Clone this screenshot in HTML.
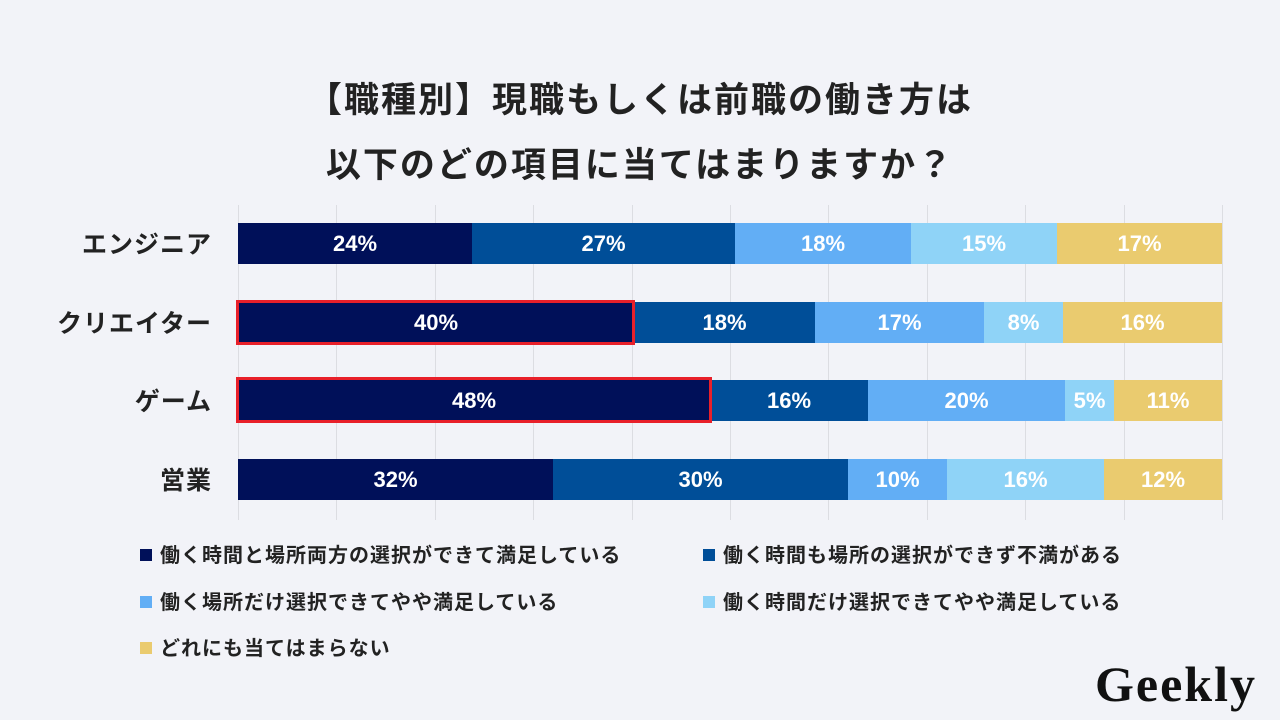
<!DOCTYPE html>
<html><head><meta charset="utf-8"><style>
body{margin:0;width:1280px;height:720px;background:#f2f3f8;position:relative;overflow:hidden;font-family:"Liberation Sans","Noto Sans CJK JP",sans-serif;}
.t{position:absolute;left:0;width:1280px;text-align:center;font-size:35px;font-weight:bold;color:#222;letter-spacing:2px}
.g{position:absolute;top:205px;height:315px;width:1px;background:#dcdde2}
.s{position:absolute;height:41px;color:#fff;font-weight:bold;font-size:22px;display:flex;align-items:center;justify-content:center}
.lab{position:absolute;right:1068px;font-size:25px;font-weight:bold;color:#222;text-align:right;white-space:nowrap;letter-spacing:1px}
.box{position:absolute;border:3px solid #e8202a;box-sizing:border-box}
.lg{position:absolute;font-size:20px;font-weight:bold;color:#222;white-space:nowrap;letter-spacing:1px}
.lg i{display:inline-block;width:12px;height:12px;margin-right:8px;vertical-align:1px}
</style></head><body>
<div class="t" style="top:72px">【職種別】現職もしくは前職の働き方は</div>
<div class="t" style="top:137px">以下のどの項目に当てはまりますか？</div>
<div class="g" style="left:238px"></div><div class="g" style="left:336px"></div><div class="g" style="left:435px"></div><div class="g" style="left:533px"></div><div class="g" style="left:632px"></div><div class="g" style="left:730px"></div><div class="g" style="left:828px"></div><div class="g" style="left:927px"></div><div class="g" style="left:1025px"></div><div class="g" style="left:1124px"></div><div class="g" style="left:1222px"></div>

<div class="lab" style="top:225px">エンジニア</div>
<div class="lab" style="top:304px">クリエイター</div>
<div class="lab" style="top:382px">ゲーム</div>
<div class="lab" style="top:461px">営業</div>

<div class="s" style="top:223px;left:238px;width:234px;background:#001059">24%</div>
<div class="s" style="top:223px;left:472px;width:263px;background:#004e98">27%</div>
<div class="s" style="top:223px;left:735px;width:176px;background:#62aef5">18%</div>
<div class="s" style="top:223px;left:911px;width:146px;background:#8fd3f7">15%</div>
<div class="s" style="top:223px;left:1057px;width:165px;background:#eacb6f">17%</div>

<div class="s" style="top:302px;left:238px;width:396px;background:#001059">40%</div>
<div class="s" style="top:302px;left:634px;width:181px;background:#004e98">18%</div>
<div class="s" style="top:302px;left:815px;width:169px;background:#62aef5">17%</div>
<div class="s" style="top:302px;left:984px;width:79px;background:#8fd3f7">8%</div>
<div class="s" style="top:302px;left:1063px;width:159px;background:#eacb6f">16%</div>

<div class="s" style="top:380px;left:238px;width:472px;background:#001059">48%</div>
<div class="s" style="top:380px;left:710px;width:158px;background:#004e98">16%</div>
<div class="s" style="top:380px;left:868px;width:197px;background:#62aef5">20%</div>
<div class="s" style="top:380px;left:1065px;width:49px;background:#8fd3f7">5%</div>
<div class="s" style="top:380px;left:1114px;width:108px;background:#eacb6f">11%</div>

<div class="s" style="top:459px;left:238px;width:315px;background:#001059">32%</div>
<div class="s" style="top:459px;left:553px;width:295px;background:#004e98">30%</div>
<div class="s" style="top:459px;left:848px;width:99px;background:#62aef5">10%</div>
<div class="s" style="top:459px;left:947px;width:157px;background:#8fd3f7">16%</div>
<div class="s" style="top:459px;left:1104px;width:118px;background:#eacb6f">12%</div>

<div class="box" style="left:236px;top:300px;width:399px;height:45px"></div>
<div class="box" style="left:236px;top:377px;width:476px;height:46px"></div>

<div class="lg" style="left:140px;top:539px"><i style="background:#001059"></i>働く時間と場所両方の選択ができて満足している</div>
<div class="lg" style="left:703px;top:539px"><i style="background:#004e98"></i>働く時間も場所の選択ができず不満がある</div>
<div class="lg" style="left:140px;top:586px"><i style="background:#62aef5"></i>働く場所だけ選択できてやや満足している</div>
<div class="lg" style="left:703px;top:586px"><i style="background:#8fd3f7"></i>働く時間だけ選択できてやや満足している</div>
<div class="lg" style="left:140px;top:632px"><i style="background:#eacb6f"></i>どれにも当てはまらない</div>

<div style="position:absolute;left:1095px;top:655px;font-family:'Liberation Serif',serif;font-weight:bold;font-size:50px;color:#111;letter-spacing:2px">Geekly</div>
</body></html>
